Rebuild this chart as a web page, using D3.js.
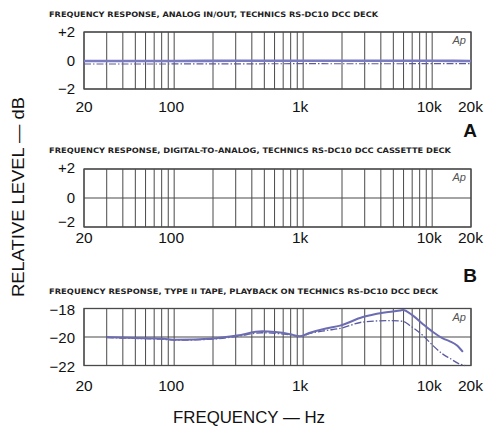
<!DOCTYPE html>
<html><head><meta charset="utf-8">
<script src="https://cdn.jsdelivr.net/npm/d3@7"></script>
<style>
html,body{margin:0;padding:0;background:#fff;}
svg{display:block;}
</style></head>
<body><div id="chart"></div>
<script>
// ---------- DATA ----------
const xTickValues = [20, 100, 1000, 10000, 20000];
const xTickLabels = ["20", "100", "1k", "10k", "20k"];

const titles = [
  "FREQUENCY RESPONSE, ANALOG IN/OUT, TECHNICS RS-DC10 DCC DECK",
  "FREQUENCY RESPONSE, DIGITAL-TO-ANALOG, TECHNICS RS-DC10 DCC CASSETTE DECK",
  "FREQUENCY RESPONSE, TYPE II TAPE, PLAYBACK ON TECHNICS RS-DC10 DCC DECK"
];
const yTicksA = [2, 0, -2];  const yLabelsA = ["+2", "0", "\u22122"];
const yTicksB = [2, 0, -2];  const yLabelsB = ["+2", "0", "\u22122"];
const yTicksC = [-18, -20, -22]; const yLabelsC = ["\u221218", "\u221220", "\u221222"];

// Panel A: analog in/out
const freqA = [20, 50, 100, 300, 1000, 3000, 10000, 20000];
const solidA = [-0.03, -0.03, -0.03, -0.02, -0.02, -0.02, -0.02, -0.03];
const dashA  = [-0.25, -0.25, -0.24, -0.24, -0.22, -0.23, -0.22, -0.22];

// Panel C: Type II tape playback
const freqC_solid = [30, 50, 78, 105, 200, 307, 480, 790, 944, 1130, 1500, 1930, 2900, 4160, 5640, 5940, 7100, 8490, 10140, 12100, 13700, 15600, 17300];
const solidC = [-20.0, -20.07, -20.1, -20.2, -20.1, -19.9, -19.6, -19.8, -19.95, -19.7, -19.4, -19.2, -18.6, -18.3, -18.14, -18.1, -18.5, -19.1, -19.65, -20.1, -20.3, -20.6, -21.05];
const freqC_dash = [30, 50, 78, 105, 200, 307, 480, 790, 944, 1130, 1500, 1930, 2900, 4710, 5940, 6730, 8490, 10140, 12100, 13700, 16400, 18000];
const dashC = [-20.05, -20.1, -20.15, -20.22, -20.15, -19.95, -19.7, -19.85, -19.95, -19.75, -19.55, -19.4, -18.95, -18.85, -18.9, -19.2, -19.9, -20.6, -21.2, -21.5, -21.9, -22.0];

// ---------- LAYOUT ----------
const W = 490, H = 429;
const svg = d3.select("#chart").append("svg").attr("width", W).attr("height", H);
const x = d3.scaleLog().domain([20, 20000]).range([84, 471]);

const gridColor = "#4a4a4a";
const lineColor = "#6c6cb2";
const tickFont = "'Liberation Sans', Arial, sans-serif";

const panels = [
  {title: titles[0], titleY: 17, titleW: 329, top: 32, bottom: 89, domain: [-2, 2],
   yTicks: yTicksA, yLabels: yLabelsA, yLabelCenters: [32, 61, 89], xLabelCenter: 106,
   series: [{f: freqA, v: solidA, w: 2.6, dash: null, c: "#7b7bc0"},
            {f: freqA, v: dashA, w: 1.1, dash: "7,2,1.5,2", c: "#5a5aa0"}]},
  {title: titles[1], titleY: 153, titleW: 402, top: 169, bottom: 227, domain: [-2, 2],
   yTicks: yTicksB, yLabels: yLabelsB, yLabelCenters: [168, 198, 222], xLabelCenter: 237,
   series: []},
  {title: titles[2], titleY: 294, titleW: 389, top: 308.5, bottom: 365.5, domain: [-22, -18],
   yTicks: yTicksC, yLabels: yLabelsC, yLabelCenters: [310, 338, 367], xLabelCenter: 385,
   series: [{f: freqC_dash, v: dashC, w: 1.3, dash: "7,2,1.5,2", c: "#5a5aa0"},
            {f: freqC_solid, v: solidC, w: 2.0, dash: null, c: "#6c6cb2"}]}
];

panels.forEach(p => {
  const y = d3.scaleLinear().domain(p.domain).range([p.bottom, p.top]);
  const g = svg.append("g");

  // title
  g.append("text").attr("x", 49).attr("y", p.titleY)
    .attr("textLength", p.titleW).attr("lengthAdjust", "spacingAndGlyphs")
    .style("font-family", "'DejaVu Sans Condensed','DejaVu Sans',sans-serif")
    .style("font-size", "7.5px").style("font-weight", "bold").style("fill", "#222")
    .text(p.title);

  // vertical grid lines from log ticks
  g.selectAll("line.vg").data(x.ticks()).enter().append("line")
    .attr("x1", d => x(d)).attr("x2", d => x(d))
    .attr("y1", p.top).attr("y2", p.bottom)
    .attr("stroke", gridColor).attr("stroke-width", 1);

  // horizontal grid lines
  g.selectAll("line.hg").data(p.yTicks).enter().append("line")
    .attr("x1", x(20)).attr("x2", x(20000))
    .attr("y1", d => y(d)).attr("y2", d => y(d))
    .attr("stroke", gridColor).attr("stroke-width", 1.2);

  // border
  g.append("rect").attr("x", x(20)).attr("y", p.top)
    .attr("width", x(20000) - x(20)).attr("height", p.bottom - p.top)
    .attr("fill", "none").attr("stroke", gridColor).attr("stroke-width", 1.3);

  // y tick labels
  p.yTicks.forEach((t, i) => {
    g.append("text").attr("x", 75).attr("y", p.yLabelCenters[i] + 5.4)
      .attr("text-anchor", "end")
      .style("font-family", tickFont).style("font-size", "15px").style("fill", "#111")
      .text(p.yLabels[i]);
  });

  // x tick labels
  xTickValues.forEach((t, i) => {
    const last = i === xTickValues.length - 1;
    g.append("text")
      .attr("x", last ? 483 : x(t) - (i === 0 ? 0 : 3))
      .attr("y", p.xLabelCenter + 5.6)
      .attr("text-anchor", last ? "end" : "middle")
      .style("font-family", tickFont).style("font-size", "15.5px").style("fill", "#111")
      .text(xTickLabels[i]);
  });

  // Ap mark
  g.append("text").attr("x", 466).attr("y", p.top + 12).attr("text-anchor", "end")
    .style("font-family", tickFont).style("font-style", "italic").style("font-size", "11px")
    .style("fill", "#555").text("Ap");

  // curves
  const line = d3.line().x(d => x(d[0])).y(d => y(d[1])).curve(d3.curveMonotoneX);
  p.series.forEach(s => {
    g.append("path").datum(s.f.map((f, i) => [f, s.v[i]]))
      .attr("d", line).attr("fill", "none")
      .attr("stroke", s.c).attr("stroke-width", s.w)
      .attr("stroke-dasharray", s.dash)
      .attr("stroke-linejoin", "round");
  });
});

// panel letters
svg.append("text").attr("x", 470).attr("y", 137).attr("text-anchor", "middle")
  .style("font-family", "'Liberation Sans', Arial, sans-serif").style("font-weight", "bold")
  .style("font-size", "19px").style("fill", "#111").text("A");
svg.append("text").attr("x", 470).attr("y", 282).attr("text-anchor", "middle")
  .style("font-family", "'Liberation Sans', Arial, sans-serif").style("font-weight", "bold")
  .style("font-size", "19px").style("fill", "#111").text("B");

// axis titles
svg.append("text").attr("transform", "translate(24,197) rotate(-90)")
  .attr("text-anchor", "middle").attr("textLength", 200).attr("lengthAdjust", "spacingAndGlyphs")
  .style("font-family", tickFont).style("font-size", "17px").style("fill", "#111")
  .text("RELATIVE LEVEL \u2014 dB");
svg.append("text").attr("x", 249).attr("y", 423).attr("text-anchor", "middle")
  .attr("textLength", 152).attr("lengthAdjust", "spacingAndGlyphs")
  .style("font-family", tickFont).style("font-size", "17px").style("fill", "#111")
  .text("FREQUENCY \u2014 Hz");
</script>
</body></html>
